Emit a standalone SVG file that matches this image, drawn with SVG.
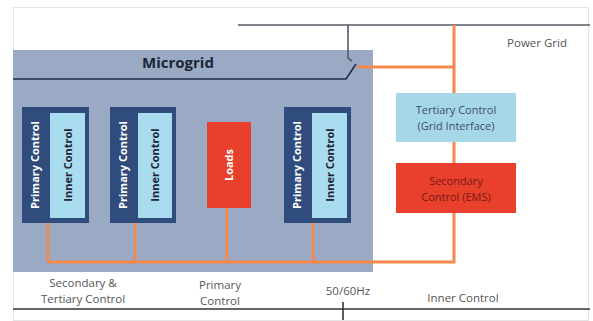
<svg xmlns="http://www.w3.org/2000/svg" width="593" height="321" viewBox="0 0 593 321">
  <style>
    .frame { fill: #ffffff; stroke: #e4e4e4; stroke-width: 1; }
    .panel { fill: #9aaac4; }
    .grid { stroke: #555b63; stroke-width: 1.6; fill: none; }
    .dark { stroke: #1f2f4a; stroke-width: 1.6; fill: none; }
    .wire { stroke: #f38a4c; stroke-width: 3; fill: none; }
    .outer { fill: #2f4c7c; }
    .inner { fill: #a9dcee; }
    .red { fill: #e8402d; }
    .tert { fill: #a6d7e9; }
    text { font-family: "Open Sans", "Liberation Sans", sans-serif; }
    .title { font-size: 15px; font-weight: bold; fill: #1c2638; }
    .vw { font-size: 11px; font-weight: bold; fill: #ffffff; }
    .vd { font-size: 11px; font-weight: bold; fill: #1c2638; }
    .lbl { font-size: 11.5px; fill: #555555; }
    .box { font-size: 11px; fill: #3b4e66; }
    .boxr { font-size: 11px; fill: #7a1a12; }
  </style>

  <!-- outer frame -->
  <rect class="frame" x="13.5" y="7.5" width="575" height="313"/>

  <!-- microgrid panel -->
  <g id="microgrid">
    <rect class="panel" x="13" y="50" width="360" height="222"/>
    <text class="title" x="178" y="68" text-anchor="middle">Microgrid</text>
  </g>

  <g id="connectors">
    <!-- power grid line and breaker -->
    <polyline class="grid" points="238,25 590,25"/>
    <polyline class="grid" points="348,25 348,58 352,61"/>
    <polyline class="dark" points="13,79 346,79 356,64"/>
    <!-- orange control wiring -->
    <polyline class="wire" points="357,67 454,67"/>
    <polyline class="wire" points="454,25 454,262 48,262"/>
    <line class="wire" x1="48" y1="223" x2="48" y2="262"/>
    <line class="wire" x1="135" y1="223" x2="135" y2="262"/>
    <line class="wire" x1="227" y1="208" x2="227" y2="262"/>
    <line class="wire" x1="313" y1="223" x2="313" y2="262"/>
    <!-- time scale -->
    <line stroke="#666666" stroke-width="2" x1="13" y1="309" x2="590" y2="309"/>
    <line stroke="#333333" stroke-width="1.6" x1="343" y1="302" x2="343" y2="320"/>
  </g>

  <g id="unit1">
    <rect class="outer" x="22" y="107" width="67" height="116"/>
    <rect class="inner" x="50" y="113" width="35" height="105"/>
    <text class="vw" transform="translate(39,165) rotate(-90)" text-anchor="middle">Primary Control</text>
    <text class="vd" transform="translate(71.5,165) rotate(-90)" text-anchor="middle">Inner Control</text>
  </g>

  <g id="unit2">
    <rect class="outer" x="110" y="107" width="66" height="116"/>
    <rect class="inner" x="138" y="113" width="34" height="105"/>
    <text class="vw" transform="translate(127,165) rotate(-90)" text-anchor="middle">Primary Control</text>
    <text class="vd" transform="translate(159,165) rotate(-90)" text-anchor="middle">Inner Control</text>
  </g>

  <g id="loads">
    <rect class="red" x="207" y="122" width="44" height="86"/>
    <text class="vw" transform="translate(233,165) rotate(-90)" text-anchor="middle">Loads</text>
  </g>

  <g id="unit3">
    <rect class="outer" x="284" y="107" width="67" height="116"/>
    <rect class="inner" x="312" y="113" width="35" height="105"/>
    <text class="vw" transform="translate(301,165) rotate(-90)" text-anchor="middle">Primary Control</text>
    <text class="vd" transform="translate(333.5,165) rotate(-90)" text-anchor="middle">Inner Control</text>
  </g>

  <g id="tertiary">
    <rect class="tert" x="396" y="93" width="120" height="49"/>
    <text class="box" x="456" y="114" text-anchor="middle">Tertiary Control</text>
    <text class="box" x="456" y="130" text-anchor="middle">(Grid Interface)</text>
  </g>

  <g id="secondary">
    <rect class="red" x="396" y="163" width="120" height="50"/>
    <text class="boxr" x="456" y="185" text-anchor="middle">Secondary</text>
    <text class="boxr" x="456" y="201" text-anchor="middle">Control (EMS)</text>
  </g>

  <g id="labels">
    <text class="lbl" x="537" y="47" text-anchor="middle">Power Grid</text>
    <text class="lbl" x="83" y="287" text-anchor="middle">Secondary &amp;</text>
    <text class="lbl" x="83" y="303" text-anchor="middle">Tertiary Control</text>
    <text class="lbl" x="220" y="289" text-anchor="middle">Primary</text>
    <text class="lbl" x="220" y="305" text-anchor="middle">Control</text>
    <text class="lbl" x="348" y="295" text-anchor="middle">50/60Hz</text>
    <text class="lbl" x="463" y="302" text-anchor="middle">Inner Control</text>
  </g>
</svg>
